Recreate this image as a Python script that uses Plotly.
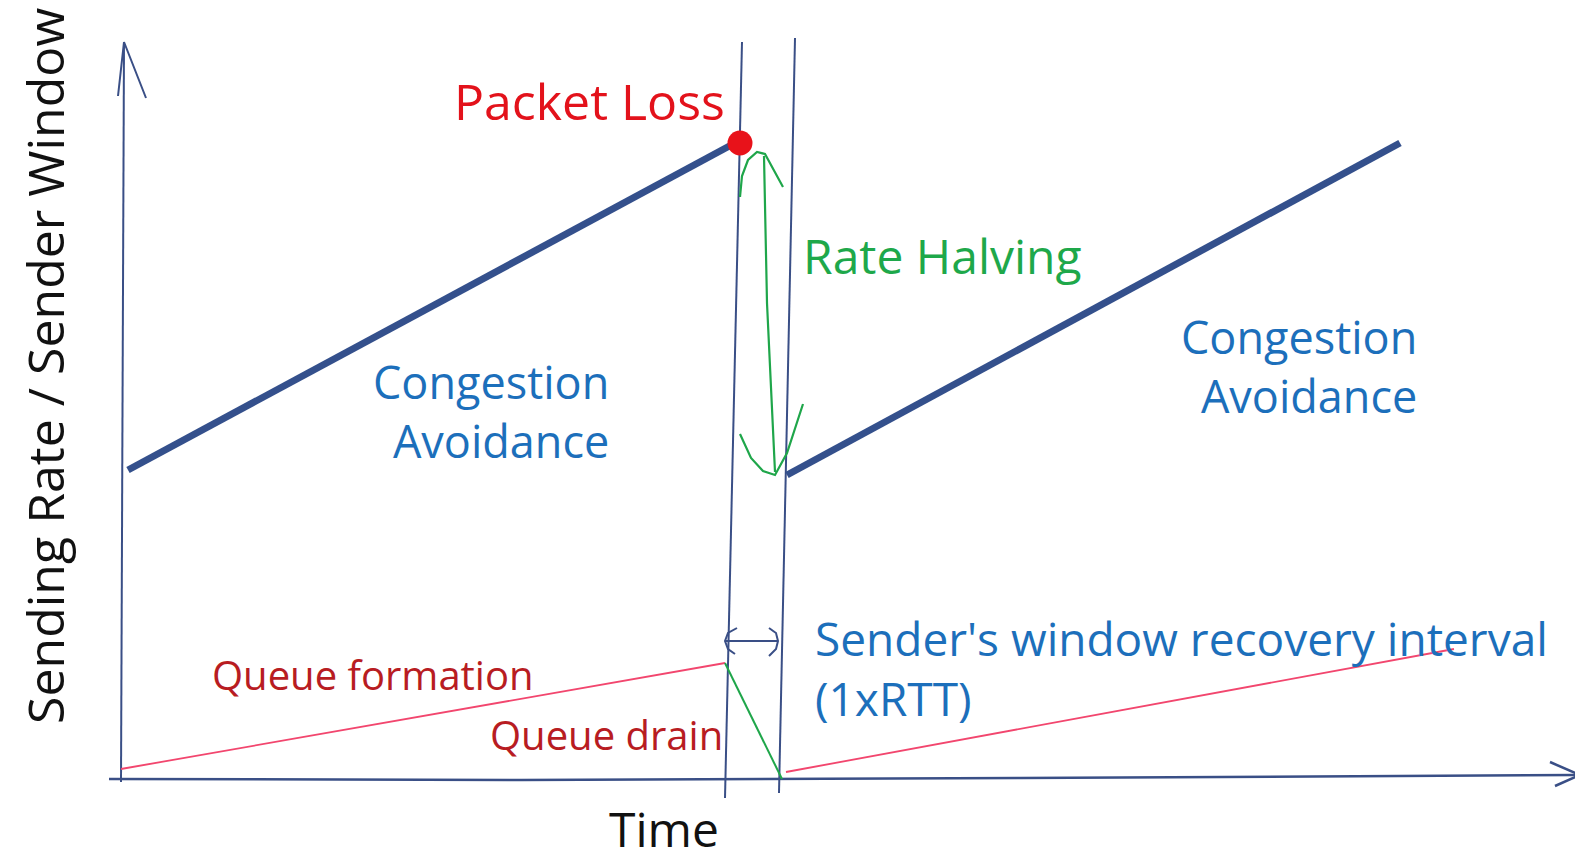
import plotly.graph_objects as go

# ---- data (time units, rate units) ----
ca1_time = [0.07, 6.14]
ca1_rate = [3.08, 6.35]
ca2_time = [6.66, 12.79]
ca2_rate = [3.03, 6.35]
loss_time = [6.19]
loss_rate = [6.35]

queue_form_time = [0.0, 6.04]
queue_form_rate = [0.09, 1.15]
queue_drain_time = [6.04, 6.61]
queue_drain_rate = [1.15, -0.01]
queue_form2_time = [6.65, 13.33]
queue_form2_rate = [0.06, 1.29]

rtt_start_time = [6.21, 6.04]
rtt_start_rate = [7.36, -0.20]
rtt_end_time = [6.74, 6.58]
rtt_end_rate = [7.40, -0.15]

halving_time = [6.43, 6.46, 6.54]
halving_rate = [6.22, 4.75, 3.06]
halving_head_top_time = [6.19, 6.21, 6.27, 6.36, 6.44, 6.52, 6.62]
halving_head_top_rate = [5.81, 6.02, 6.18, 6.26, 6.24, 6.10, 5.91]
halving_head_bot_time = [6.19, 6.30, 6.42, 6.54, 6.66, 6.82]
halving_head_bot_rate = [3.44, 3.20, 3.07, 3.03, 3.25, 3.74]

interval_time = [6.04, 6.57]
interval_rate = [1.37, 1.37]
interval_left_head_time = [6.16, 6.07, 6.04, 6.07, 6.14]
interval_left_head_rate = [1.50, 1.45, 1.37, 1.29, 1.24]
interval_right_head_time = [6.48, 6.55, 6.57, 6.55, 6.48]
interval_right_head_rate = [1.50, 1.45, 1.37, 1.29, 1.22]

yaxis_time = [0.0, 0.03]
yaxis_rate = [-0.04, 7.36]
yaxis_head_time = [-0.03, 0.03, 0.25]
yaxis_head_rate = [6.82, 7.36, 6.80]
xaxis_time = [-0.12, 4.0, 9.0, 14.59]
xaxis_rate = [-0.01, -0.02, 0.00, 0.03]
xaxis_head_time = [14.29, 14.59, 14.34]
xaxis_head_rate = [0.16, 0.03, -0.08]

labels = {
    "loss": "Packet Loss",
    "halving": "Rate Halving",
    "ca": "Congestion<br>Avoidance",
    "qform": "Queue formation",
    "qdrain": "Queue drain",
    "interval": "Sender's window recovery interval<br>(1xRTT)",
    "x": "Time",
    "y": "Sending Rate / Sender Window",
}

AXIS = "#3a4f86"
THICK = "#34508c"
GREEN = "#1fa64a"
PINK = "#f2466e"
BLUE_TXT = "#1c6fbb"
DARKRED = "#b81c22"
FONT = "Open Sans"

fig = go.Figure()


def line(x, y, color, width):
    fig.add_trace(go.Scatter(x=x, y=y, mode="lines", line=dict(color=color, width=width),
                             hoverinfo="skip", showlegend=False))


line(yaxis_time, yaxis_rate, AXIS, 2)
line(yaxis_head_time, yaxis_head_rate, AXIS, 2)
line(xaxis_time, xaxis_rate, AXIS, 2.5)
line(xaxis_head_time, xaxis_head_rate, AXIS, 2.5)
line(rtt_start_time, rtt_start_rate, AXIS, 2)
line(rtt_end_time, rtt_end_rate, AXIS, 2)
line(interval_time, interval_rate, AXIS, 2)
line(interval_left_head_time, interval_left_head_rate, AXIS, 2)
line(interval_right_head_time, interval_right_head_rate, AXIS, 2)
line(queue_form_time, queue_form_rate, PINK, 1.8)
line(queue_form2_time, queue_form2_rate, PINK, 1.8)
line(queue_drain_time, queue_drain_rate, GREEN, 2)
line(halving_time, halving_rate, GREEN, 2.2)
line(halving_head_top_time, halving_head_top_rate, GREEN, 2.2)
line(halving_head_bot_time, halving_head_bot_rate, GREEN, 2.2)
line(ca1_time, ca1_rate, THICK, 7)
line(ca2_time, ca2_rate, THICK, 7)
fig.add_trace(go.Scatter(x=loss_time, y=loss_rate, mode="markers",
                         marker=dict(color="#e8121a", size=25), hoverinfo="skip", showlegend=False))

ann = [
    dict(text=labels["loss"], x=4.68, y=6.77, color="#e3121b", size=50, xanchor="center", align="center"),
    dict(text=labels["halving"], x=8.21, y=5.23, color="#1ea84a", size=48, xanchor="center", align="center"),
    dict(text=labels["ca"], x=4.90, y=3.675, color=BLUE_TXT, size=45, xanchor="right", align="right"),
    dict(text=labels["ca"], x=12.98, y=4.12, color=BLUE_TXT, size=45, xanchor="right", align="right"),
    dict(text=labels["qform"], x=0.89, y=1.04, color=DARKRED, size=40, xanchor="left", align="left"),
    dict(text=labels["qdrain"], x=6.04, y=0.44, color=DARKRED, size=40, xanchor="right", align="right"),
    dict(text=labels["interval"], x=6.92, y=1.10, color=BLUE_TXT, size=46, xanchor="left", align="left"),
    dict(text=labels["x"], x=5.43, y=-0.50, color="#111111", size=48, xanchor="center", align="center"),
]
for a in ann:
    fig.add_annotation(x=a["x"], y=a["y"], xref="x", yref="y", text=a["text"], showarrow=False,
                       xanchor=a["xanchor"], yanchor="middle", align=a["align"],
                       font=dict(family=FONT, size=a["size"], color=a["color"]))
fig.add_annotation(x=-0.76, y=4.12, xref="x", yref="y", text=labels["y"], showarrow=False,
                   textangle=-90, xanchor="center", yanchor="middle",
                   font=dict(family=FONT, size=50, color="#111111"))

fig.update_layout(
    width=1583, height=862,
    margin=dict(l=0, r=0, t=0, b=0),
    paper_bgcolor="white", plot_bgcolor="white",
    xaxis=dict(range=[-1.13, 14.70], visible=False, fixedrange=True),
    yaxis=dict(range=[-0.92, 7.70], visible=False, fixedrange=True),
    showlegend=False,
)
fig.write_html("out.html")
